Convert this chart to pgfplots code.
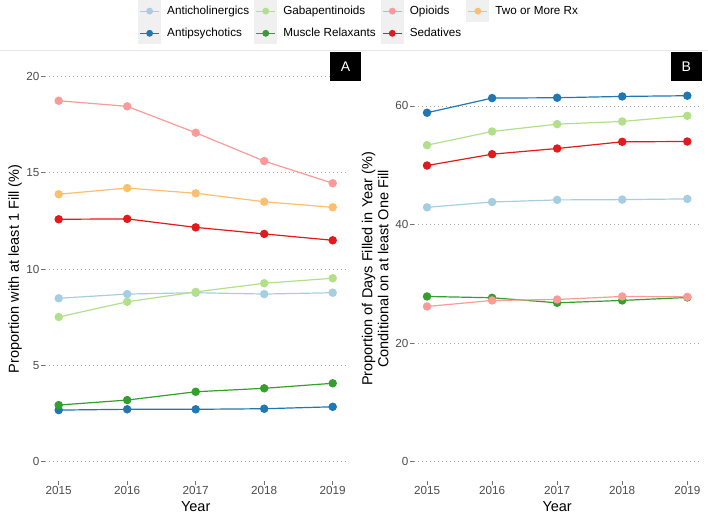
\documentclass[border=0pt]{standalone}
\usepackage{pgfplots}
\pgfplotsset{compat=1.18}
\usepackage{fontspec}
\setmainfont{Liberation Sans}
\definecolor{cAC}{HTML}{A6CEE3}
\definecolor{cAP}{HTML}{1F78B4}
\definecolor{cGB}{HTML}{B2DF8A}
\definecolor{cMR}{HTML}{33A02C}
\definecolor{cOP}{HTML}{FB9A99}
\definecolor{cSD}{HTML}{E31A1C}
\definecolor{cTW}{HTML}{FDBF6F}
\begin{document}
\begin{tikzpicture}
\useasboundingbox (0pt,0pt) rectangle (708pt,514pt);
\draw[black!10, line width=0.6pt] (0pt,464pt) -- (708pt,464pt);
\pgfplotsset{
 base/.style={
  scale only axis,
  anchor=south west,
  height=424pt,
  xmin=2014.8, xmax=2019.2,
  xtick={2015,2016,2017,2018,2019},
  xticklabels={2015,2016,2017,2018,2019},
  axis line style={draw=none},
  tick align=outside,
  major tick length=4pt,
  tick style={black!55, line width=0.8pt},
  xtick pos=bottom, ytick pos=left,
  ymajorgrids,
  major grid style={black!35, line width=0.8pt, dash pattern=on 0.8pt off 3.2pt},
  ticklabel style={font=\fontsize{11.7}{13}\selectfont, text=black!70},
  yticklabel style={inner sep=1.5pt},
  xticklabel style={inner sep=1.5pt},
  every axis plot/.append style={line width=1.2pt, mark=*, mark size=3.6pt, mark options={solid}},
  clip=false,
  /pgf/number format/assume math mode=true,
  xlabel=Year,
  every axis x label/.style={at={(axis description cs:0.5,-0.0613)},anchor=center,font=\fontsize{14.5}{16}\selectfont},
 }
}
\begin{axis}[base, at={(45pt,33pt)}, width=301.4pt,
  ymin=-1, ymax=21, ytick={0,5,10,15,20},
  ylabel={Proportion with at least 1 Fill (\%)},
  every axis y label/.style={at={(axis description cs:-0.0995,0.5)},rotate=90,anchor=center,font=\fontsize{14.5}{16}\selectfont},
  legend columns=4,
  legend style={at={(axis description cs:0.3086,1.1344)}, anchor=north west, draw=none, fill=none,
    inner sep=0pt, outer sep=0pt, font=\fontsize{11.7}{13}\selectfont,
    nodes={inner sep=0pt, anchor=west},
    /tikz/every odd column/.append style={column sep=6pt},
    /tikz/every even column/.append style={column sep=5pt}},
  legend image code/.code={
    \fill[black!6] (0pt,-10.5pt) rectangle (22pt,10.5pt);
    \draw[mark repeat=2,mark phase=2,#1, line width=1.2pt, mark size=2.8pt] plot coordinates {(1.5pt,0pt) (11pt,0pt) (20.5pt,0pt)};
  },
]
\addplot[cAC, forget plot] coordinates {(2015,8.48) (2016,8.70) (2017,8.77) (2018,8.70) (2019,8.77)};
\addplot[cAP, forget plot] coordinates {(2015,2.68) (2016,2.72) (2017,2.72) (2018,2.75) (2019,2.85)};
\addplot[cGB, forget plot] coordinates {(2015,7.51) (2016,8.30) (2017,8.81) (2018,9.26) (2019,9.52)};
\addplot[cMR, forget plot] coordinates {(2015,2.94) (2016,3.20) (2017,3.63) (2018,3.81) (2019,4.07)};
\addplot[cOP, forget plot] coordinates {(2015,18.73) (2016,18.44) (2017,17.07) (2018,15.60) (2019,14.45)};
\addplot[cSD, forget plot] coordinates {(2015,12.58) (2016,12.60) (2017,12.16) (2018,11.82) (2019,11.49)};
\addplot[cTW, forget plot] coordinates {(2015,13.88) (2016,14.20) (2017,13.93) (2018,13.49) (2019,13.20)};
\addlegendimage{cAC, mark=*}\addlegendentry{Anticholinergics}
\addlegendimage{cGB, mark=*}\addlegendentry{Gabapentinoids}
\addlegendimage{cOP, mark=*}\addlegendentry{Opioids}
\addlegendimage{cTW, mark=*}\addlegendentry{Two or More Rx}
\addlegendimage{cAP, mark=*}\addlegendentry{Antipsychotics}
\addlegendimage{cMR, mark=*}\addlegendentry{Muscle Relaxants}
\addlegendimage{cSD, mark=*}\addlegendentry{Sedatives}
\end{axis}
\begin{axis}[base, at={(414pt,33pt)}, width=286.3pt,
  ymin=-3.25, ymax=68.25, ytick={0,20,40,60},
  ylabel={Proportion of Days Filled in Year (\%)\\Conditional on at least One Fill},
  every axis y label/.style={at={(axis description cs:-0.136,0.5)},rotate=90,anchor=center,align=center,font=\fontsize{14.5}{16}\selectfont},
]
\addplot[cAC] coordinates {(2015,42.90) (2016,43.80) (2017,44.15) (2018,44.20) (2019,44.32)};
\addplot[cAP] coordinates {(2015,58.85) (2016,61.32) (2017,61.38) (2018,61.60) (2019,61.72)};
\addplot[cGB] coordinates {(2015,53.38) (2016,55.69) (2017,56.93) (2018,57.38) (2019,58.34)};
\addplot[cMR] coordinates {(2015,27.87) (2016,27.65) (2017,26.80) (2018,27.20) (2019,27.70)};
\addplot[cOP] coordinates {(2015,26.18) (2016,27.20) (2017,27.36) (2018,27.87) (2019,27.80)};
\addplot[cSD] coordinates {(2015,49.95) (2016,51.86) (2017,52.82) (2018,53.95) (2019,54.00)};
\end{axis}
\node[fill=black, text=white, minimum width=31pt, minimum height=29pt, inner sep=0pt, font=\fontsize{14}{16}\selectfont] at (345.5pt,447.3pt) {A};
\node[fill=black, text=white, minimum width=31pt, minimum height=29pt, inner sep=0pt, font=\fontsize{14}{16}\selectfont] at (686.2pt,447.3pt) {B};
\end{tikzpicture}
\end{document}
